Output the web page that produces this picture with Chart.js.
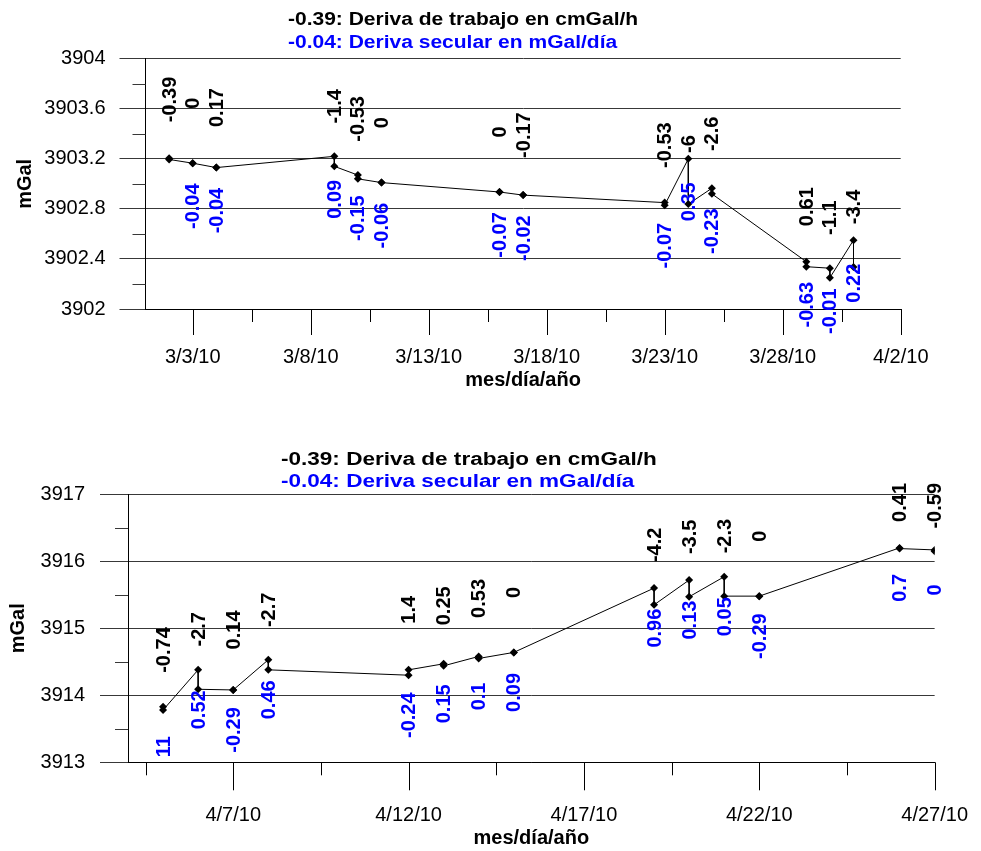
<!DOCTYPE html>
<html>
<head>
<meta charset="utf-8">
<script src="https://cdn.jsdelivr.net/npm/chart.js@4/dist/chart.umd.min.js"></script>
<style>
  html, body { margin: 0; padding: 0; background: #fff; }
  #wrap { position: relative; width: 981px; height: 851px; }
  canvas { position: absolute; left: 0; }
</style>
</head>
<body>
<div id="wrap">
  <canvas id="topChart" width="981" height="425" style="top:0"></canvas>
  <canvas id="bottomChart" width="981" height="426" style="top:425px"></canvas>
</div>
<script>
// March survey: one station per date, first and second reading (mGal)
const topDates = ['3/2/10', '3/3/10', '3/4/10', '3/9/10', '3/10/10', '3/11/10', '3/16/10',
                  '3/17/10', '3/23/10', '3/24/10', '3/25/10', '3/29/10', '3/30/10', '3/31/10'];
const topFirst = [3903.205, 3903.165, 3903.13, 3903.22, 3903.07, 3903.01, 3902.935,
                  3902.91, 3902.85, 3903.2, 3902.965, 3902.378, 3902.326, 3902.55];
const topSecond = [3903.195, 3903.165, 3903.13, 3903.14, 3903.04, 3903.01, 3902.935,
                   3902.91, 3902.83, 3902.838, 3902.92, 3902.338, 3902.25, 3902.336];
const topWork = ['-0.39', '0', '0.17', '-1.4', '-0.53', '0', '0', '-0.17', '-0.53', '-6', '-2.6', '0.61', '-1.1', '-3.4'];
const topSecular = ['', '-0.04', '-0.04', '0.09', '-0.15', '-0.06', '-0.07', '-0.02', '-0.07', '0.35', '-0.23', '-0.63', '-0.01', '0.22'];
const topRange = ['3/1/10', '4/2/10'];
const topXTicks = ['3/3/10', '3/8/10', '3/13/10', '3/18/10', '3/23/10', '3/28/10', '4/2/10'];
const topYTicks = [3902, 3902.4, 3902.8, 3903.2, 3903.6, 3904];

// April survey
const bottomDates = ['4/5/10', '4/6/10', '4/7/10', '4/8/10', '4/12/10', '4/13/10', '4/14/10',
                     '4/15/10', '4/19/10', '4/20/10', '4/21/10', '4/22/10', '4/26/10', '4/27/10'];
const bottomFirst = [3913.83, 3914.38, 3914.08, 3914.53, 3914.30, 3914.47, 3914.58,
                     3914.64, 3915.60, 3915.72, 3915.77, 3915.48, 3916.20, 3916.17];
const bottomSecond = [3913.78, 3914.09, 3914.08, 3914.38, 3914.38, 3914.44, 3914.55,
                      3914.64, 3915.35, 3915.47, 3915.48, 3915.48, 3916.19, 3916.15];
const bottomWork = ['-0.74', '-2.7', '0.14', '-2.7', '1.4', '0.25', '0.53', '0', '-4.2', '-3.5', '-2.3', '0', '0.41', '-0.59'];
const bottomSecular = ['11', '0.52', '-0.29', '0.46', '-0.24', '0.15', '0.1', '0.09', '0.96', '0.13', '0.05', '-0.29', '0.7', '0'];
const bottomRange = ['4/4/10', '4/27/10'];
const bottomXTicks = ['4/7/10', '4/12/10', '4/17/10', '4/22/10', '4/27/10'];
const bottomYTicks = [3913, 3914, 3915, 3916, 3917];

const titleWork = '-0.39: Deriva de trabajo en cmGal/h';
const titleSecular = '-0.04: Deriva secular en mGal/día';

const FONT = "'Liberation Sans', Arial, sans-serif";
const GRID = '#383838';
const BLUE = '#0000ff';

// m/d/yy -> day number
function dayOf(s) {
    const [m, d, y] = s.split('/').map(Number);
    return Date.UTC(2000 + y, m - 1, d) / 86400000;
}

// Plugin: drift labels, custom tick marks and the two-line caption
const panelPlugin = {
    id: 'panel',
    afterDatasetsDraw(chart) {
        const g = chart.options.plugins.panel;
        const ctx = chart.ctx;
        const xs = chart.scales.x, ys = chart.scales.y;
        const area = chart.chartArea;
        ctx.save();

        // x tick marks (long for dated ticks, short in between)
        ctx.strokeStyle = '#000';
        ctx.lineWidth = 1;
        xs.ticks.forEach(t => {
            const px = Math.round(xs.getPixelForValue(t.value)) + 0.5;
            const len = g.labels[t.value] ? g.xTickLen : g.xMinorLen;
            ctx.beginPath();
            ctx.moveTo(px, area.bottom);
            ctx.lineTo(px, area.bottom + len);
            ctx.stroke();
        });

        // minor y ticks halfway between labelled ticks
        ctx.strokeStyle = GRID;
        for (let i = 0; i < g.yTicks.length - 1; i++) {
            const py = Math.round(ys.getPixelForValue((g.yTicks[i] + g.yTicks[i + 1]) / 2)) + 0.5;
            ctx.beginPath();
            ctx.moveTo(area.left - g.yMinorLen, py);
            ctx.lineTo(area.left, py);
            ctx.stroke();
        }

        // rotated labels: working drift above, secular drift below
        ctx.font = 'bold 20px ' + FONT;
        ctx.textAlign = 'center';
        ctx.textBaseline = 'middle';
        g.dates.forEach((d, i) => {
            const px = xs.getPixelForValue(dayOf(d));
            const p1 = ys.getPixelForValue(g.first[i]);
            const p2 = ys.getPixelForValue(g.second[i]);
            const w = g.work[i];
            if (w) {
                const half = ctx.measureText(w).width / 2;
                const cy = Math.max(p2 - g.blackOff, g.minTop + half);
                ctx.save();
                ctx.translate(px + 1, cy);
                ctx.rotate(-Math.PI / 2);
                ctx.fillStyle = '#000';
                ctx.fillText(w, 0, 0);
                ctx.restore();
            }
            const s = g.secular[i];
            if (s) {
                ctx.save();
                ctx.translate(px + 1, p1 + g.blueOff);
                ctx.rotate(-Math.PI / 2);
                ctx.fillStyle = BLUE;
                ctx.fillText(s, 0, 0);
                ctx.restore();
            }
        });

        // caption, slightly stretched like the original
        ctx.font = 'bold ' + g.titleSize + 'px ' + FONT;
        ctx.textAlign = 'left';
        [[titleWork, '#000', g.titleY1], [titleSecular, BLUE, g.titleY2]].forEach(([txt, col, y]) => {
            ctx.save();
            ctx.translate(g.titleX, y);
            ctx.scale(1.2, 1);
            ctx.fillStyle = col;
            ctx.fillText(txt, 0, 0);
            ctx.restore();
        });
        ctx.restore();
    }
};

function makePanel(id, d, geo) {
    const canvas = document.getElementById(id);
    const W = canvas.width, H = canvas.height;

    // flatten the station readings into one line
    const points = [];
    d.dates.forEach((s, i) => {
        points.push({ x: dayOf(s), y: d.first[i] });
        points.push({ x: dayOf(s), y: d.second[i] });
    });

    // dated ticks plus an undated one halfway between
    const labels = {};
    d.xTicks.forEach(s => { labels[dayOf(s)] = s; });
    const xMin = dayOf(d.range[0]), xMax = dayOf(d.range[1]);
    const majors = d.xTicks.map(dayOf);
    const xTickValues = [];
    majors.forEach(v => {
        const half = v - 2.5;
        if (half > xMin) xTickValues.push(half);
        xTickValues.push(v);
    });

    return new Chart(canvas.getContext('2d'), {
        type: 'line',
        data: {
            datasets: [{
                data: points,
                borderColor: '#000',
                borderWidth: 1,
                pointStyle: 'rectRot',
                pointRadius: 4,
                pointBackgroundColor: '#000',
                pointBorderColor: '#000',
                pointBorderWidth: 0,
                tension: 0
            }]
        },
        options: {
            responsive: false,
            animation: false,
            devicePixelRatio: 1,
            layout: { padding: { left: 0, right: W - geo.right, top: geo.top, bottom: 0 } },
            plugins: {
                legend: { display: false },
                tooltip: { enabled: false },
                panel: Object.assign({}, geo, d, { labels: labels, yTicks: d.yTicks })
            },
            scales: {
                x: {
                    type: 'linear',
                    min: xMin,
                    max: xMax,
                    afterBuildTicks: s => { s.ticks = xTickValues.map(v => ({ value: v })); },
                    afterFit: s => { s.height = H - geo.bottom; },
                    ticks: {
                        autoSkip: false,
                        maxRotation: 0,
                        minRotation: 0,
                        color: '#000',
                        padding: geo.xLabelPad,
                        font: { family: FONT, size: 20 },
                        callback: (v, i, ticks) => labels[ticks[i].value] || ''
                    },
                    grid: { drawOnChartArea: false, drawTicks: true, tickLength: geo.xTickLen, tickColor: 'rgba(0,0,0,0)' },
                    border: { color: '#000' },
                    title: {
                        display: true,
                        text: 'mes/día/año',
                        color: '#000',
                        font: { family: FONT, size: 20, weight: 'bold' },
                        padding: { top: 0, bottom: geo.xTitlePad }
                    }
                },
                y: {
                    min: d.yTicks[0],
                    max: d.yTicks[d.yTicks.length - 1],
                    afterBuildTicks: s => { s.ticks = d.yTicks.map(v => ({ value: v })); },
                    afterFit: s => { s.width = geo.left; },
                    ticks: {
                        color: '#000',
                        padding: geo.yPad,
                        font: { family: FONT, size: 20 },
                        callback: v => String(v)
                    },
                    grid: { color: GRID, tickColor: GRID, tickLength: geo.yTickLen },
                    border: { color: '#000' },
                    title: {
                        display: true,
                        text: 'mGal',
                        color: '#000',
                        font: { family: FONT, size: 20, weight: 'bold' },
                        padding: { top: geo.yTitlePad, bottom: 0 }
                    }
                }
            }
        },
        plugins: [panelPlugin]
    });
}

makePanel('topChart',
    { dates: topDates, first: topFirst, second: topSecond, work: topWork, secular: topSecular,
      range: topRange, xTicks: topXTicks, yTicks: topYTicks },
    { left: 145.5, right: 900.7, top: 58.7, bottom: 309, yTickLen: 26, yMinorLen: 13, yPad: 14, yTitlePad: 13,
      xTickLen: 26, xMinorLen: 13, xLabelPad: 10, xTitlePad: 33, blueOff: 43, blackOff: 60, minTop: 0,
      titleX: 288, titleY1: 20, titleY2: 43, titleSize: 17.5 });

makePanel('bottomChart',
    { dates: bottomDates, first: bottomFirst, second: bottomSecond, work: bottomWork, secular: bottomSecular,
      range: bottomRange, xTicks: bottomXTicks, yTicks: bottomYTicks },
    { left: 128, right: 937.6, top: 69.3, bottom: 337.3, yTickLen: 28, yMinorLen: 13, yPad: 15, yTitlePad: 6,
      xTickLen: 28, xMinorLen: 13, xLabelPad: 13, xTitlePad: 1, blueOff: 40, blackOff: 60, minTop: 58,
      titleX: 281, titleY1: 34.5, titleY2: 57, titleSize: 18.8 });
</script>
</body>
</html>
